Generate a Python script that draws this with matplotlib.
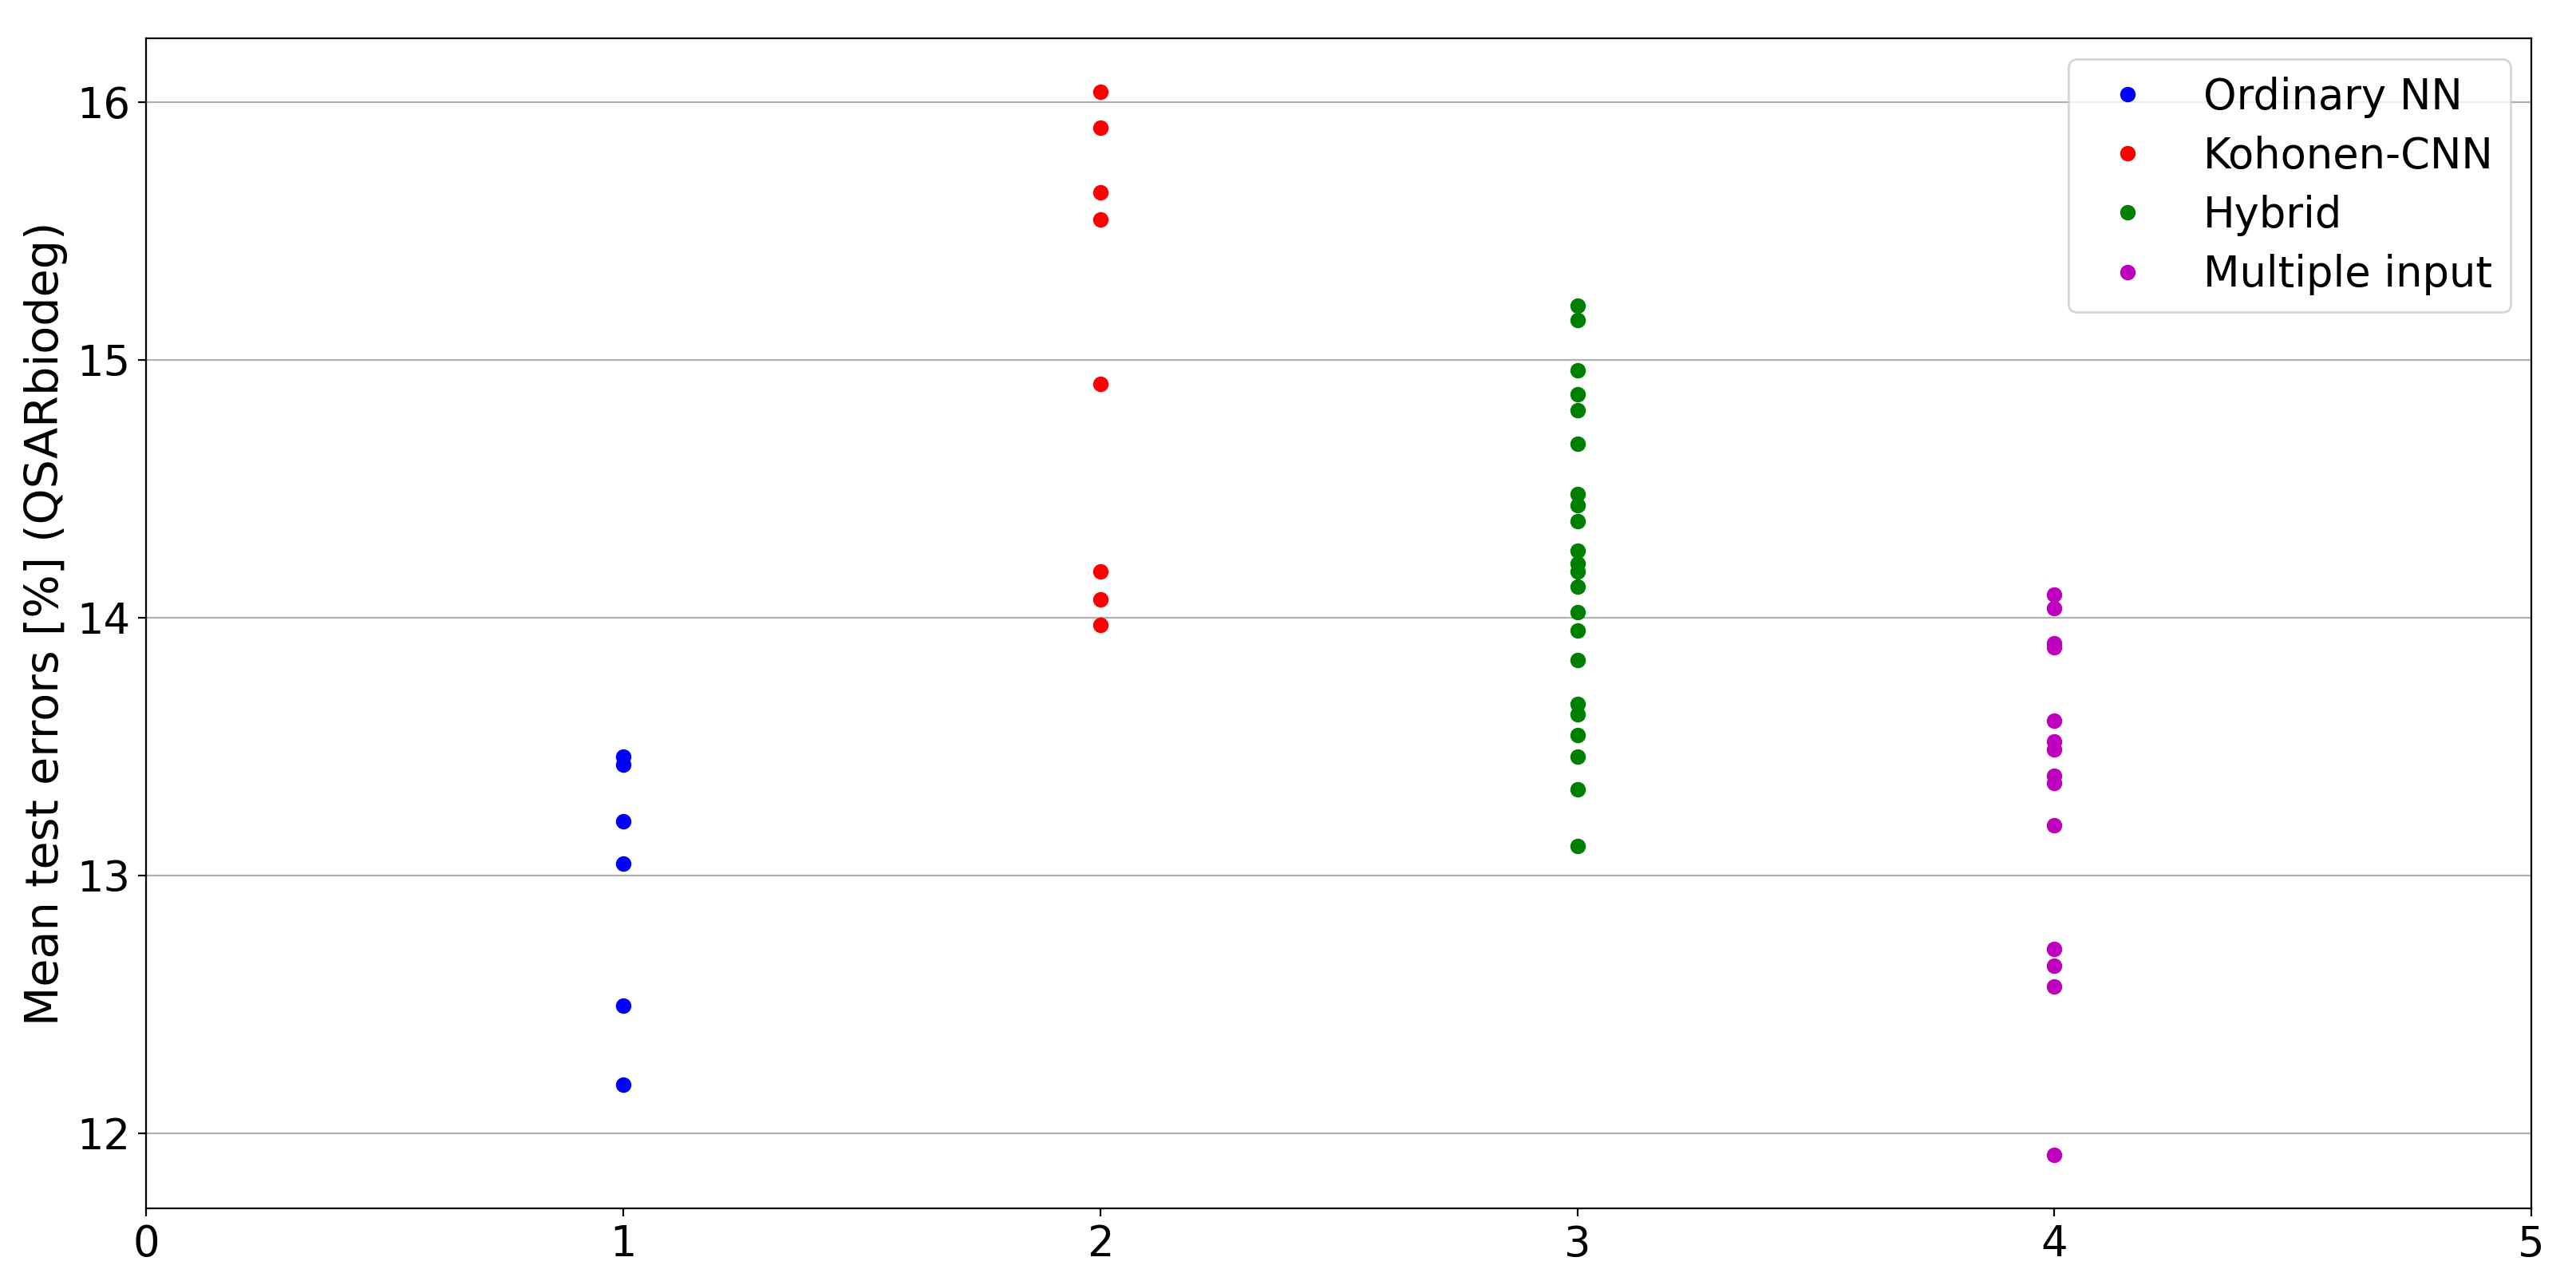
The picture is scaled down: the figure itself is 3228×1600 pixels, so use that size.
import matplotlib
matplotlib.use("Agg")
import matplotlib.pyplot as plt

labels = ["Ordinary NN", "Kohonen-CNN", "Hybrid", "Multiple input"]
colors = ["b", "r", "g", "m"]
positions = [1, 2, 3, 4]

ordinary_nn = [13.46, 13.43, 13.21, 13.045, 12.495, 12.19]
kohonen_cnn = [16.04, 15.90, 15.65, 15.545, 14.905, 14.18, 14.07, 13.97]
hybrid = [15.21, 15.155, 14.96, 14.865, 14.805, 14.675, 14.48, 14.435, 14.375,
          14.26, 14.21, 14.18, 14.12, 14.02, 13.95, 13.835, 13.665, 13.625,
          13.545, 13.46, 13.335, 13.115]
multiple_input = [14.09, 14.035, 13.90, 13.885, 13.60, 13.52, 13.49, 13.385,
                  13.36, 13.195, 12.715, 12.65, 12.57, 11.915]

series = [ordinary_nn, kohonen_cnn, hybrid, multiple_input]
xticks = [0, 1, 2, 3, 4, 5]
yticks = [12, 13, 14, 15, 16]

fig = plt.figure(figsize=(16.14, 8), dpi=200)
ax = fig.add_axes([0.0567, 0.05375, 0.926, 0.91625])

for pos, vals, col, lab in zip(positions, series, colors, labels):
    ax.plot([pos] * len(vals), vals, "o", color=col, label=lab, markersize=6)

ax.set_xlim(0, 5)
ax.set_xticks(xticks)
ax.set_yticks(yticks)
ax.tick_params(labelsize=19)
ax.yaxis.grid(True)
ax.set_axisbelow(True)
ax.set_ylabel("Mean test errors [%] (QSARbiodeg)", fontsize=20.6)
ax.legend(loc="upper right", fontsize=19, labelspacing=0.42)

fig.savefig("out.png", dpi=200)
